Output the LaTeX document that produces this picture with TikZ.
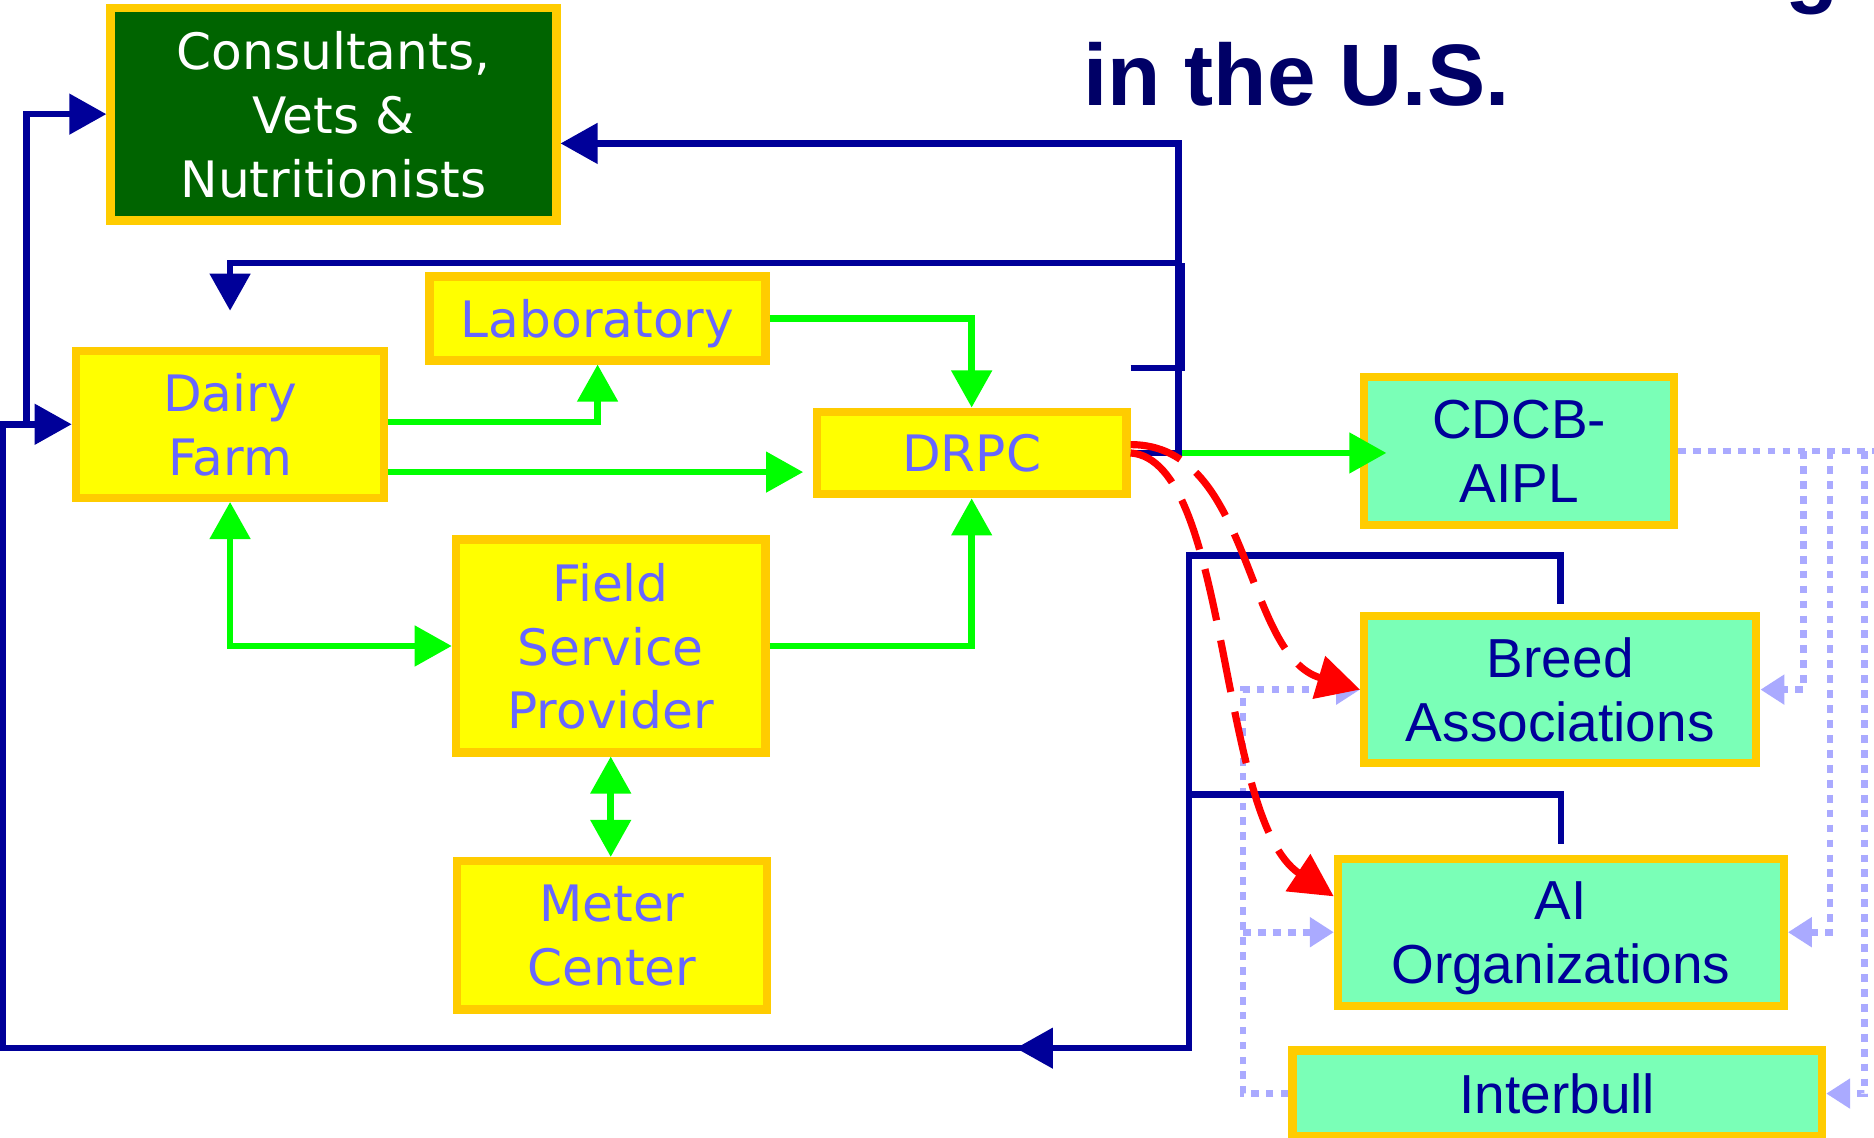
\documentclass[tikz,border=0pt]{standalone}
\usepackage{fontspec}
\usetikzlibrary{arrows.meta}
\newfontfamily\boxfont{DejaVu Sans}
\newfontfamily\orgfont{Liberation Sans}

\definecolor{gold}{RGB}{255,204,0}
\definecolor{boxyellow}{RGB}{255,255,0}
\definecolor{darkleaf}{RGB}{0,100,0}
\definecolor{mint}{RGB}{122,255,183}
\definecolor{periwinkle}{RGB}{102,102,255}
\definecolor{linkblue}{RGB}{0,0,153}
\definecolor{titlenavy}{RGB}{0,0,102}
\definecolor{datagreen}{RGB}{0,255,0}
\definecolor{lavender}{RGB}{170,170,255}

\tikzset{
  unit/.style={draw=gold, line width=7pt, outer sep=3.5pt, inner sep=0pt,
    align=center, text depth=0pt},
  boxsize/.style 2 args={minimum width=#1pt-7pt, minimum height=#2pt-7pt},
  farmbox/.style={unit, fill=boxyellow, text=periwinkle,
    font=\boxfont\fontsize{42}{53.5}\selectfont},
  advbox/.style={unit, fill=darkleaf, text=white,
    font=\boxfont\fontsize{42}{53.5}\selectfont},
  evalbox/.style={unit, fill=mint, text=linkblue,
    font=\orgfont\fontsize{46}{53.5}\selectfont},
  bluelink/.style={draw=linkblue, line width=5.5pt},
  bluearrow/.style={bluelink, -{Triangle[length=31pt,width=33pt]}},
  greenlink/.style={draw=datagreen, line width=5.5pt},
  greenarrow/.style={greenlink, -{Triangle[length=31pt,width=33pt]}},
  greenboth/.style={greenlink, {Triangle[length=31pt,width=33pt]}-{Triangle[length=31pt,width=33pt]}},
  redlink/.style={draw=red, line width=6pt, dash pattern=on 44pt off 17pt,
    -{Triangle[length=36pt,width=36pt]}},
  dotlink/.style={draw=lavender, line width=5.5pt, dash pattern=on 6.5pt off 6pt},
  dotarrow/.style={dotlink, -{Triangle[length=20pt,width=24pt]}},
  titletext/.style={anchor=base west, inner sep=0pt, text=titlenavy,
    font=\orgfont\bfseries\fontsize{73}{80}\selectfont}
}

\begin{document}
\begin{tikzpicture}[x=1pt, y=-1pt]
  \fill[white] (0,0) rectangle (1568,952);
  \useasboundingbox (0,0) rectangle (1568,952);

  % heading
  \node[titletext] (titleg) at (1494,-3) {g};
  \node[titletext] (title) at (906,88) {in the U.S.};

  % boxes
  \node[advbox, boxsize={380}{185}] (adv) at (279,95.5) {Consultants,\\Vets \&\\Nutritionists};
  \node[farmbox, boxsize={288}{77}] (lab) at (500,266.5) {Laboratory};
  \node[farmbox, boxsize={265}{130}] (farm) at (192.5,355) {Dairy\\Farm};
  \node[farmbox, boxsize={266}{76}] (drpc) at (813,379) {DRPC};
  \node[farmbox, boxsize={266}{185}] (fsp) at (511,540.5) {Field\\Service\\Provider};
  \node[farmbox, boxsize={266}{131}] (meter) at (512,782.5) {Meter\\Center};
  \node[evalbox, boxsize={266}{131}] (cdcb) at (1271,377.5) {CDCB-\\AIPL};
  \node[evalbox, boxsize={335}{130}] (breed) at (1305.5,577) {Breed\\Associations};
  \node[evalbox, boxsize={380}{130}] (ai) at (1306,780) {AI\\Organizations};
  \node[evalbox, boxsize={450}{79}] (ib) at (1303,915) {Interbull};

  % evaluation results (dotted)
  \coordinate (dj1) at (1509,377.5);
  \coordinate (dj2) at (1531,377.5);
  \coordinate (dj3) at (1560,377.5);
  \coordinate (dedge) at (1580,377.5);
  \coordinate (dl) at (1040,915);
  \draw[dotlink] (cdcb.east) -- (dedge);
  \draw[dotarrow] (dj1) |- (breed.east);
  \draw[dotarrow] (dj2) |- (ai.east);
  \draw[dotarrow] (dj3) |- (ib.east);
  \draw[dotarrow] (ib.west) -- (dl) |- (breed.west);
  \draw[dotarrow] (ai.west -| dl) -- (ai.west);

  % data flow (green)
  \draw[greenarrow] ([yshift=2pt]farm.east) -| (lab.south);
  \draw[greenarrow, shorten >=8pt] ([yshift=-40pt]farm.east) -- ([yshift=-40pt]farm.east -| drpc.west);
  \draw[greenarrow] (lab.east) -| (drpc.north);
  \draw[greenboth] (farm.south) |- (fsp.west);
  \draw[greenarrow] (fsp.east) -| (drpc.south);
  \draw[greenboth] (fsp.south) -- (fsp.south |- meter.north);
  \draw[greenarrow, shorten >=-22pt] (drpc.east) -- (drpc.east -| cdcb.west);

  % reports (blue)
  \coordinate (bt) at (986,120);
  \coordinate (bm) at (986,220);
  \coordinate (bm2) at (989,220);
  \coordinate (stubL) at (946,308);
  \coordinate (stubR) at (989,308);
  \draw[bluearrow] (drpc.east) -| (bt) -- (bt -| adv.east);
  \draw[bluearrow, shorten >=30pt] (bm) -| (farm.north);
  \draw[bluelink] (stubL) -- (stubR) -- (bm2);

  \coordinate (rb) at (995,465);
  \coordinate (rm) at (995,665);
  \coordinate (rbottom) at (995,877);
  \coordinate (btip) at (850,877);
  \coordinate (bseam) at (930,877);
  \coordinate (lb) at (2,877);
  \coordinate (lj) at (22,355);
  \draw[bluearrow, shorten <=7pt] (breed.north) |- (rb) -- (rbottom) -- (btip);
  \draw[bluelink, shorten <=9pt] (ai.north) |- (rm);
  \draw[bluearrow] (bseam) -- (lb) |- (farm.west);
  \draw[bluearrow] (lj) |- (adv.west);

  % data to breed and AI organizations (red dashed)
  \draw[redlink] ([yshift=7pt]drpc.east) .. controls (1048,372) and (1040,548) .. (breed.west);
  \draw[redlink] (drpc.east) .. controls (1030,385) and (1018,685) .. ([yshift=30pt]ai.west);
\end{tikzpicture}
\end{document}
